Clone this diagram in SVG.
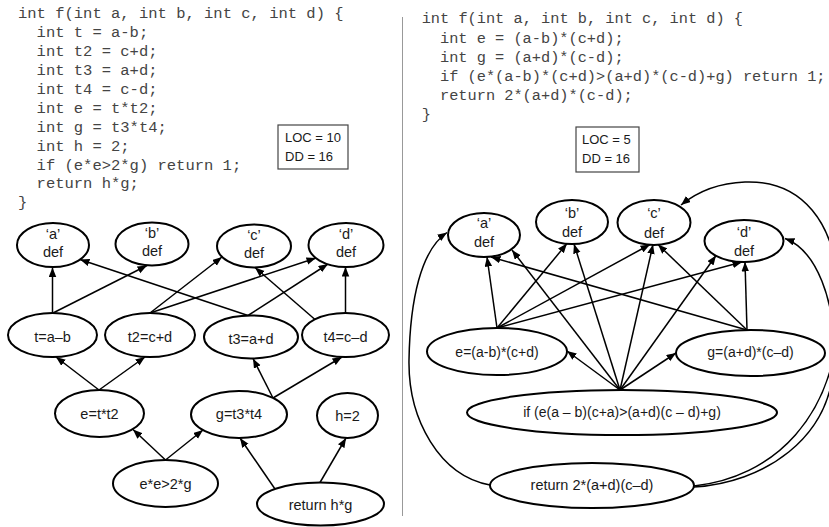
<svg xmlns="http://www.w3.org/2000/svg" width="829" height="527" viewBox="0 0 829 527">
  <defs>
    <marker id="arrow" markerUnits="userSpaceOnUse" markerWidth="10" markerHeight="8" refX="9.5" refY="3.75" orient="auto">
      <path d="M0,0 L9.5,3.75 L0,7.5 z" fill="#000"/>
    </marker>
  </defs>
  <style>
    .code { font-family: "Liberation Mono", "Courier New", monospace; fill: #444; }
    .cl { font-size: 15.5px; }
    .cr { font-size: 15.3px; }
    .node ellipse { fill: #fff; stroke: #000; stroke-width: 2; }
    .node text, .box text { font-family: "Liberation Sans", Arial, sans-serif; font-size: 14.5px; fill: #1a1a1a; text-anchor: middle; }
    .node text.long { font-size: 14px; }
    .box rect { fill: #fff; stroke: #444; stroke-width: 1.2; }
    .box text { font-size: 13px; text-anchor: start; }
    .edges line, .edges path { stroke: #000; stroke-width: 1.5; fill: none; marker-end: url(#arrow); }
  </style>
  <rect width="829" height="527" fill="#fff"/>

  <!-- original function, left column -->
  <g id="code-left" class="code cl">
    <text x="18" y="18.3">int f(int a, int b, int c, int d) {</text>
    <text x="36.6" y="37.2">int t = a-b;</text>
    <text x="36.6" y="56.1">int t2 = c+d;</text>
    <text x="36.6" y="75">int t3 = a+d;</text>
    <text x="36.6" y="93.9">int t4 = c-d;</text>
    <text x="36.6" y="112.8">int e = t*t2;</text>
    <text x="36.6" y="131.7">int g = t3*t4;</text>
    <text x="36.6" y="150.6">int h = 2;</text>
    <text x="36.6" y="169.5">if (e*e&gt;2*g) return 1;</text>
    <text x="36.6" y="188.4">return h*g;</text>
    <text x="18" y="206.5">}</text>
  </g>

  <g id="metrics-left" class="box">
    <rect x="278" y="125" width="70" height="44"/>
    <text x="285" y="142">LOC = 10</text>
    <text x="285" y="161">DD = 16</text>
  </g>

  <!-- inlined function, right column -->
  <g id="code-right" class="code cr">
    <text x="421.7" y="23.3">int f(int a, int b, int c, int d) {</text>
    <text x="440" y="42.5">int e = (a-b)*(c+d);</text>
    <text x="440" y="61.7">int g = (a+d)*(c-d);</text>
    <text x="440" y="80.9">if (e*(a-b)*(c+d)&gt;(a+d)*(c-d)+g) return 1;</text>
    <text x="440" y="100.1">return 2*(a+d)*(c-d);</text>
    <text x="421.7" y="118.5">}</text>
  </g>

  <g id="metrics-right" class="box">
    <rect x="576" y="127" width="63" height="45"/>
    <text x="582" y="143.5">LOC = 5</text>
    <text x="582" y="162.7">DD = 16</text>
  </g>

  <!-- column divider -->
  <line x1="402.5" y1="17" x2="402.5" y2="516" stroke="#999" stroke-width="1"/>

  <!-- dependency edges -->
  <g id="connectors" class="edges">
    <!-- left graph -->
    <line x1="52.5" y1="313" x2="52.5" y2="267.5"/>
    <line x1="53" y1="313" x2="147" y2="265.5"/>
    <line x1="150" y1="313" x2="222" y2="257"/>
    <line x1="150" y1="313" x2="316" y2="258"/>
    <line x1="248" y1="315.5" x2="80" y2="259.5"/>
    <line x1="248" y1="315.5" x2="328" y2="264"/>
    <line x1="315" y1="319.5" x2="255" y2="267.5"/>
    <line x1="345.5" y1="313" x2="345.5" y2="267"/>
    <line x1="99" y1="390" x2="56" y2="357"/>
    <line x1="99" y1="390" x2="145" y2="357"/>
    <line x1="273" y1="398" x2="253" y2="358.5"/>
    <line x1="273" y1="398" x2="342" y2="357"/>
    <line x1="165.5" y1="460" x2="133" y2="429.5"/>
    <line x1="165.5" y1="460" x2="203" y2="430"/>
    <line x1="275" y1="489" x2="240" y2="438"/>
    <line x1="320" y1="482.5" x2="346" y2="438"/>

    <!-- right graph -->
    <line x1="497" y1="328" x2="487" y2="257"/>
    <line x1="497" y1="328" x2="567" y2="243.5"/>
    <line x1="497" y1="328" x2="650" y2="244.5"/>
    <line x1="497" y1="328" x2="742" y2="262"/>
    <line x1="747" y1="330" x2="491" y2="257"/>
    <line x1="747" y1="330" x2="658" y2="244.5"/>
    <line x1="747" y1="330" x2="745" y2="262"/>
    <line x1="620" y1="390" x2="512" y2="250"/>
    <line x1="620" y1="390" x2="574" y2="244"/>
    <line x1="620" y1="390" x2="653" y2="244.5"/>
    <line x1="620" y1="390" x2="716" y2="255.5"/>
    <line x1="620" y1="390" x2="567" y2="351"/>
    <line x1="620" y1="390" x2="676" y2="353"/>
    <path d="M490,485 C440,476 408,420 409,360 C410,300 421,250 447,232.5"/>
    <path d="M694,486 C770,478 840,420 839,300 C838,220 800,180 745,182 C717,183 697,192 681,205"/>
    <path d="M694,487 C762,483 832,440 834,360 C836,300 816,250 785,238.5"/>
  </g>

  <!-- left graph nodes -->
  <g id="l-a" class="node"><ellipse cx="53" cy="245" rx="36" ry="22"/><text x="53" y="239">‘a’</text><text x="53" y="257">def</text></g>
  <g id="l-b" class="node"><ellipse cx="152" cy="244" rx="36.5" ry="21.5"/><text x="152" y="238">‘b’</text><text x="152" y="256">def</text></g>
  <g id="l-c" class="node"><ellipse cx="254" cy="246" rx="37" ry="21.5"/><text x="254" y="240">‘c’</text><text x="254" y="258">def</text></g>
  <g id="l-d" class="node"><ellipse cx="346" cy="245" rx="37.5" ry="22"/><text x="346" y="239">‘d’</text><text x="346" y="257">def</text></g>
  <g id="l-t" class="node"><ellipse cx="52.5" cy="335" rx="44.5" ry="22"/><text x="52.5" y="341.5">t=a–b</text></g>
  <g id="l-t2" class="node"><ellipse cx="150" cy="335" rx="45" ry="22"/><text x="150" y="341.5">t2=c+d</text></g>
  <g id="l-t3" class="node"><ellipse cx="251" cy="337" rx="47" ry="21.5"/><text x="251" y="344">t3=a+d</text></g>
  <g id="l-t4" class="node"><ellipse cx="345.5" cy="335" rx="43.5" ry="22"/><text x="345.5" y="341.5">t4=c–d</text></g>
  <g id="l-e" class="node"><ellipse cx="99.5" cy="413.5" rx="44.5" ry="23.5"/><text x="99.5" y="418.5">e=t*t2</text></g>
  <g id="l-g" class="node"><ellipse cx="239" cy="414.5" rx="48" ry="23.5"/><text x="239" y="419">g=t3*t4</text></g>
  <g id="l-h" class="node"><ellipse cx="347.5" cy="415.5" rx="30.5" ry="22.5"/><text x="347.5" y="420.5">h=2</text></g>
  <g id="l-if" class="node"><ellipse cx="165.5" cy="483.5" rx="52.5" ry="23.5"/><text x="165.5" y="489">e*e&gt;2*g</text></g>
  <g id="l-ret" class="node"><ellipse cx="320.5" cy="504" rx="63.5" ry="21.5"/><text x="320.5" y="510">return h*g</text></g>

  <!-- right graph nodes -->
  <g id="r-a" class="node"><ellipse cx="484" cy="235" rx="36" ry="22"/><text x="484" y="228">‘a’</text><text x="484" y="247">def</text></g>
  <g id="r-b" class="node"><ellipse cx="572" cy="222" rx="36" ry="22"/><text x="572" y="218">‘b’</text><text x="572" y="237">def</text></g>
  <g id="r-c" class="node"><ellipse cx="654" cy="222.5" rx="36.5" ry="22.5"/><text x="654" y="218">‘c’</text><text x="654" y="237.5">def</text></g>
  <g id="r-d" class="node"><ellipse cx="744" cy="241" rx="39.5" ry="21"/><text x="744" y="237">‘d’</text><text x="744" y="256">def</text></g>
  <g id="r-e" class="node"><ellipse cx="497" cy="351.5" rx="70" ry="23.5"/><text class="long" x="497" y="356.5">e=(a-b)*(c+d)</text></g>
  <g id="r-g" class="node"><ellipse cx="750.5" cy="353" rx="74.5" ry="23"/><text class="long" x="750.5" y="357">g=(a+d)*(c–d)</text></g>
  <g id="r-if" class="node"><ellipse cx="622" cy="412.5" rx="155" ry="22.5"/><text class="long" x="622" y="417">if (e(a – b)(c+a)&gt;(a+d)(c – d)+g)</text></g>
  <g id="r-ret" class="node"><ellipse cx="592" cy="485.5" rx="102" ry="22.5"/><text x="592" y="490">return 2*(a+d)(c–d)</text></g>
</svg>
